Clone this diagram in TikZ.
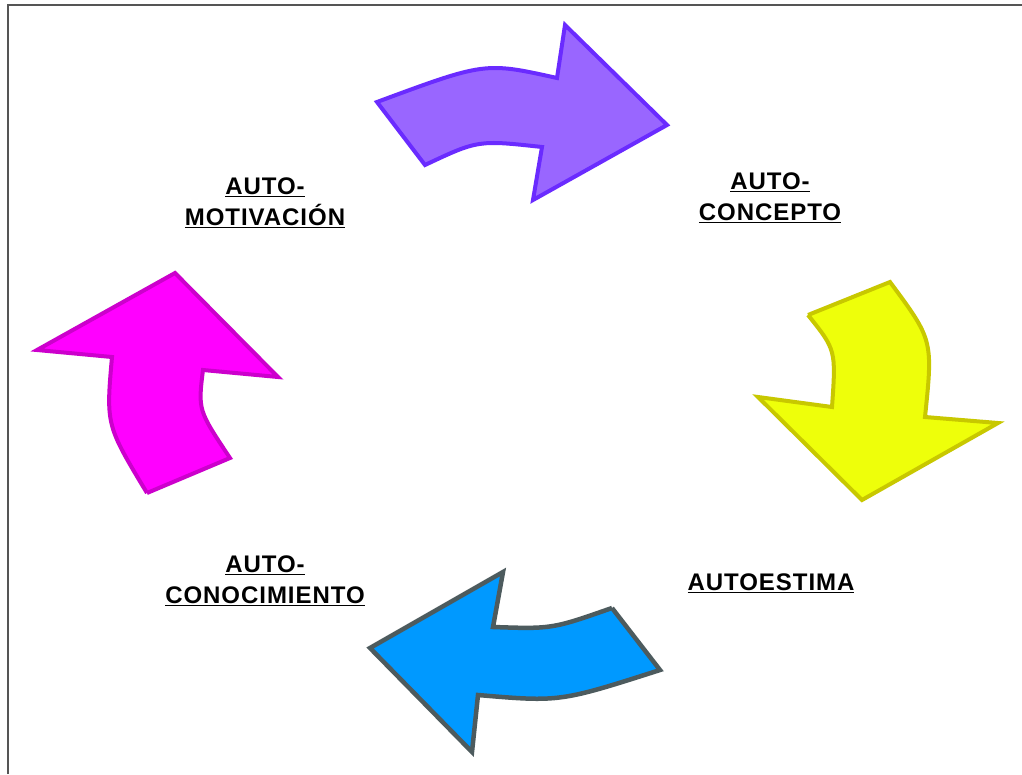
\documentclass[tikz,border=0pt]{standalone}
\usepackage{fontspec}
\setmainfont{Liberation Sans}
\definecolor{purpfill}{HTML}{9966FF}
\definecolor{purpline}{HTML}{6A2BFF}
\definecolor{yelfill}{HTML}{EEFF0A}
\definecolor{yelline}{HTML}{C8C800}
\definecolor{bluefill}{HTML}{0099FF}
\definecolor{blueline}{HTML}{4D5B5E}
\definecolor{magfill}{HTML}{FF00FF}
\definecolor{magline}{HTML}{CC00CC}
\definecolor{framecol}{HTML}{555555}
\tikzset{
  arrowshape/.style={line width=4pt, line join=miter},
  label/.style={align=center, font=\fontsize{24}{31}\selectfont\bfseries\addfontfeature{LetterSpace=4}, text=black, inner sep=0pt},
}
\begin{document}
\begin{tikzpicture}[x=1pt,y=-1pt]
\useasboundingbox (0,0) rectangle (1022,774);
\fill[white] (0,0) rectangle (1022,774);
% frame
\draw[framecol, line width=2.2pt] (8,774) -- (8,5) -- (1022,5);
% purple arrow (top)
\draw[arrowshape, draw=purpline, fill=purpfill]
  (377,102) .. controls (485,62) .. (557,78) -- (565,25) -- (667,125) -- (533,200) -- (542,147)
  .. controls (478,140) .. (425,165) -- cycle;
% yellow arrow (right)
\draw[arrowshape, draw=yelline, fill=yelfill]
  (808,315) -- (890,282) .. controls (933,340) .. (925,417) -- (998,423) -- (862,500) -- (758,397) -- (832,407)
  .. controls (836,350) .. (808,315);
% blue arrow (bottom)
\draw[arrowshape, line width=4.5pt, draw=blueline, fill=bluefill]
  (612,608) -- (660,670) .. controls (560,702) .. (478,695) -- (472,752) -- (370,648) -- (503,572) -- (493,627)
  .. controls (552,629) .. (612,608);
% magenta arrow (left)
\draw[arrowshape, draw=magline, fill=magfill]
  (147,493) -- (230,458) .. controls (198,410) .. (203,370) -- (278,377) -- (175,273) -- (37,350) -- (112,357)
  .. controls (106,425) .. (147,493);
% labels
\node[label] (motiv) at (265,203) {\underline{AUTO-}\\\underline{MOTIVACIÓN}};
\node[label] (concep) at (770,198) {\underline{AUTO-}\\\underline{CONCEPTO}};
\node[label] (estima) at (771,583) {\underline{AUTOESTIMA}};
\node[label] (conoc) at (265,581) {\underline{AUTO-}\\\underline{CONOCIMIENTO}};
\end{tikzpicture}
\end{document}
